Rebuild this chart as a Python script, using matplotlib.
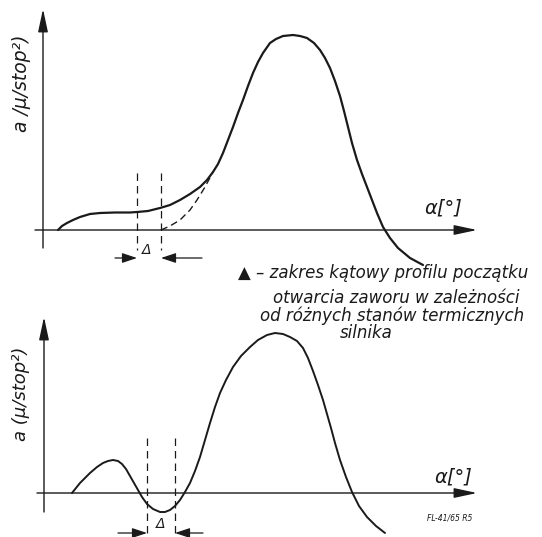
import matplotlib
matplotlib.use("Agg")
import matplotlib.pyplot as plt

# ---- data (in drawing units = pixels) ----
top_curve_x = [58, 62, 67, 73, 80, 90, 100, 115, 130, 137, 148, 160, 170, 180, 190, 200, 207, 213,
               218, 223, 228, 233, 238, 243, 248, 253, 258, 263, 270, 276, 283, 293, 300, 307, 314,
               320, 325, 330, 335, 340, 344, 348, 352, 357, 362, 367, 372, 377, 383, 390, 398, 410, 423]
top_curve_y = [230, 226, 223, 220, 217, 214, 213, 212.5, 212.5, 212, 211, 208, 205, 200, 194, 187, 180, 172,
               164, 153, 140, 127, 113, 100, 86, 73, 62, 53, 43, 39, 36, 35, 36, 38, 43,
               50, 58, 68, 81, 96, 111, 127, 143, 160, 174, 187, 200, 213, 227, 238, 248, 258, 265]

top_dashed_x = [161, 170, 180, 190, 197, 205, 213]
top_dashed_y = [230, 226, 220, 210, 200, 187, 172]

bot_curve_x = [72, 76, 80, 85, 90, 97, 103, 108, 113, 118, 122, 126, 130, 134, 138, 142, 147, 153,
               160, 165, 170, 175, 180, 185, 190, 195, 200, 205, 210, 215, 220, 226, 233, 241, 250,
               258, 267, 275, 283, 290, 297, 303, 308, 313, 318, 323, 327, 331, 335, 340, 346, 352,
               359, 367, 376, 385]
bot_curve_y = [493, 488, 483, 478, 473, 467, 463, 461, 460, 461, 464, 469, 476, 483, 490, 497, 504, 509,
               512, 512, 510, 506, 500, 492, 483, 471, 457, 440, 423, 407, 393, 380, 367, 356, 347,
               340, 335, 333, 334, 337, 341, 348, 358, 371, 385, 400, 414, 428, 443, 460, 477, 492,
               506, 517, 526, 533]

top_delta_x = [137, 161]
bot_delta_x = [147, 175]

ylabel_top = "a /μ/stop²)"
ylabel_bot = "a (μ/stop²)"
xlabel = "α[°]"
note_lines = ["▲ – zakres kątowy profilu początku",
              "otwarcia zaworu w zależności",
              "od różnych stanów termicznych",
              "silnika"]
code_text = "FL-41/65 R5"

# ---- drawing ----
ink = "#1a1a1a"
fig = plt.figure(figsize=(5.42, 5.37), dpi=100)
ax = fig.add_axes([0, 0, 1, 1])
ax.set_xlim(0, 542)
ax.set_ylim(537, 0)
ax.axis("off")

def axis_arrow(x0, y0, x1, y1):
    ax.annotate("", xy=(x1, y1), xytext=(x0, y0),
                arrowprops=dict(arrowstyle="-|>,head_length=1.4,head_width=0.3",
                                mutation_scale=10, lw=1.0, color=ink, shrinkA=0, shrinkB=0))

def dim_arrow(x0, x1, y):
    ax.annotate("", xy=(x1, y), xytext=(x0, y),
                arrowprops=dict(arrowstyle="-|>,head_length=0.9,head_width=0.3",
                                mutation_scale=10, lw=0.9, color=ink, shrinkA=0, shrinkB=0))

# top panel
axis_arrow(43, 248, 43, 9)
axis_arrow(35, 230, 477, 230)
ax.plot(top_curve_x, top_curve_y, color=ink, lw=1.6, solid_capstyle="round", solid_joinstyle="round")
ax.plot(top_dashed_x, top_dashed_y, color=ink, lw=1.0, ls=(0, (5, 3)))
for xv in top_delta_x:
    ax.plot([xv, xv], [173, 250], color=ink, lw=0.9, ls=(0, (6, 4)))
dim_arrow(115, top_delta_x[0], 258)
dim_arrow(202, top_delta_x[1], 258)
ax.text(147, 250, "Δ", fontsize=10, ha="center", va="center", style="italic", color=ink)
ax.text(22, 83, ylabel_top, rotation=90, fontsize=13.5, ha="center", va="center", style="italic", color=ink)
ax.text(443, 208, xlabel, fontsize=14, ha="center", va="center", style="italic", color=ink)

# annotation
ax.text(238, 273, note_lines[0], fontsize=12, ha="left", va="center", style="italic", color=ink)
ax.text(273, 298, note_lines[1], fontsize=12, ha="left", va="center", style="italic", color=ink)
ax.text(260, 316, note_lines[2], fontsize=12, ha="left", va="center", style="italic", color=ink)
ax.text(340, 333, note_lines[3], fontsize=12, ha="left", va="center", style="italic", color=ink)

# bottom panel
axis_arrow(44, 512, 44, 317)
axis_arrow(37, 493, 477, 493)
ax.plot(bot_curve_x, bot_curve_y, color=ink, lw=1.4, solid_capstyle="round", solid_joinstyle="round")
for xv in bot_delta_x:
    ax.plot([xv, xv], [438, 537], color=ink, lw=0.9, ls=(0, (6, 4)))
dim_arrow(118, bot_delta_x[0], 533)
dim_arrow(203, bot_delta_x[1], 533)
ax.text(161, 524, "Δ", fontsize=10, ha="center", va="center", style="italic", color=ink)
ax.text(21, 394, ylabel_bot, rotation=90, fontsize=13, ha="center", va="center", style="italic", color=ink)
ax.text(453, 477, xlabel, fontsize=14, ha="center", va="center", style="italic", color=ink)
ax.text(450, 518, code_text, fontsize=5.5, ha="center", va="center", style="italic", color=ink)

fig.savefig("out.png", dpi=100)
